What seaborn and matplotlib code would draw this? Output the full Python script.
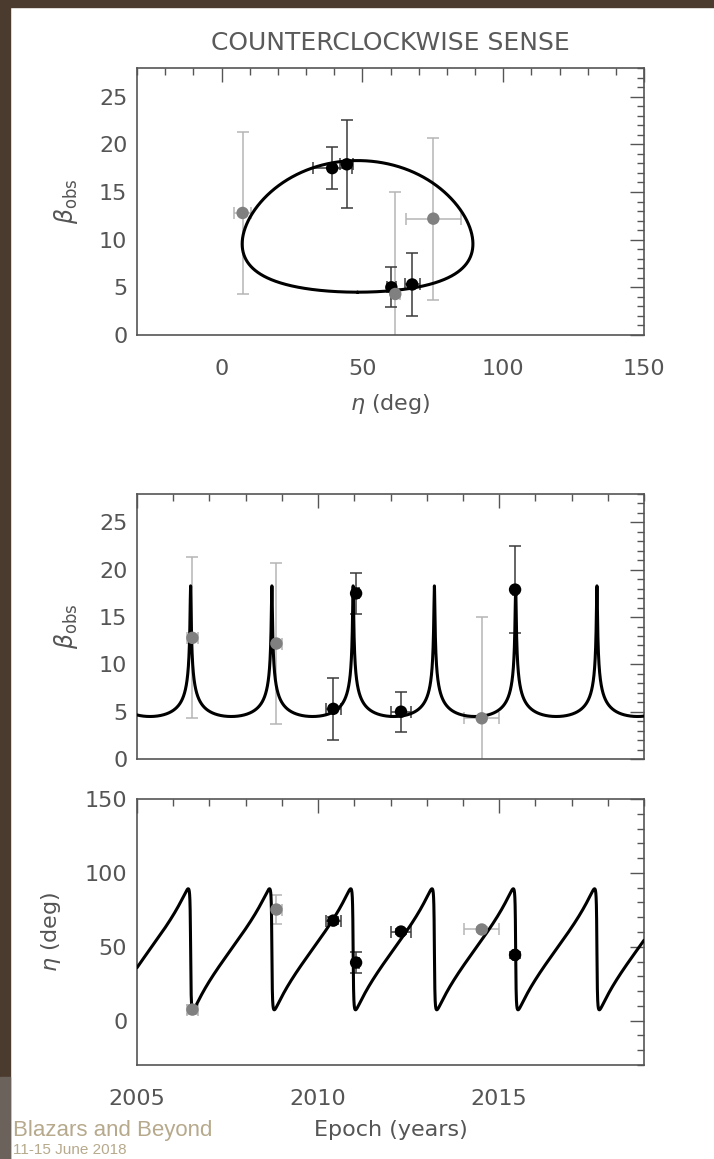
import numpy as np
import matplotlib
matplotlib.use("Agg")
import matplotlib.pyplot as plt
from matplotlib.ticker import MultipleLocator
from matplotlib.patches import Rectangle
import seaborn as sns
import pandas as pd

# ---------------- observed data ----------------
epoch      = [2006.53, 2008.85, 2010.42, 2011.05, 2012.29, 2014.52, 2015.44]
epoch_err  = [0.16, 0.15, 0.20, 0.08, 0.27, 0.48, 0.06]
beta_obs   = [12.8, 12.2, 5.3, 17.5, 5.0, 4.3, 17.9]
beta_low   = [4.3, 3.7, 2.0, 15.3, 2.9, -2.0, 13.3]
beta_high  = [21.3, 20.7, 8.6, 19.7, 7.1, 15.0, 22.5]
eta_obs    = [7.5, 75.2, 67.7, 39.3, 60.3, 61.7, 44.5]
eta_err    = [3.0, 9.7, 2.6, 6.9, 1.5, 1.5, 2.3]
group      = ["grey", "grey", "black", "black", "black", "grey", "black"]

# ---------------- precession model parameters ----------------
gamma        = 25.0      # Lorentz factor
phi0_deg     = 15.08     # cone axis angle to line of sight
omega_deg    = 9.82      # cone half-opening angle
eta_axis_deg = 48.3      # projected position angle of cone axis
period_obs   = 2.244     # observed precession period (yr)
t_peak       = 2006.48   # epoch of closest approach to line of sight

title_text = "COUNTERCLOCKWISE SENSE"
top_xticks = [0, 50, 100, 150]
beta_ticks = [0, 5, 10, 15, 20, 25]
eta_ticks = [0, 50, 100, 150]
year_ticks = [2005, 2010, 2015]
footer_1 = "Blazars and Beyond"
footer_2 = "11-15 June 2018"


def precession_model(psi):
    b = np.sqrt(1.0 - 1.0 / gamma**2)
    p0 = np.radians(phi0_deg)
    om = np.radians(omega_deg)
    nx = np.cos(om) * np.sin(p0) + np.sin(om) * np.cos(p0) * np.cos(psi)
    ny = np.sin(om) * np.sin(psi)
    nz = np.cos(om) * np.cos(p0) - np.sin(om) * np.sin(p0) * np.cos(psi)
    sin_t = np.sqrt(nx**2 + ny**2)
    bobs = b * sin_t / (1.0 - b * nz)
    eta = eta_axis_deg + np.degrees(np.arctan2(ny, nx))
    A = 1.0 - b * np.cos(om) * np.cos(p0)
    B = b * np.sin(om) * np.sin(p0)
    t = t_peak + period_obs * (A * (psi - np.pi) + B * np.sin(psi)) / (2 * np.pi * A)
    return t, bobs, eta


psi_loop = np.linspace(0, 2 * np.pi, 6000)
_, loop_beta, loop_eta = precession_model(psi_loop)
psi_time = np.linspace(np.pi - 2 * np.pi, np.pi + 2 * np.pi * 6, 120000)
mod_t, mod_beta, mod_eta = precession_model(psi_time)

df = pd.DataFrame({"epoch": epoch, "epoch_err": epoch_err, "beta": beta_obs,
                   "blo": beta_low, "bhi": beta_high, "eta": eta_obs,
                   "eta_err": eta_err, "group": group})

# ---------------- figure ----------------
sns.set_style("white")
plt.rcParams["font.family"] = ["DejaVu Sans"]
plt.rcParams["mathtext.fontset"] = "dejavusans"

W, H = 714, 1159
fig = plt.figure(figsize=(W / 100, H / 100), dpi=100)
fig.patch.set_facecolor("white")

# slide frame
fig.patches.append(Rectangle((0, 0), 10 / W, 1, transform=fig.transFigure,
                             color="#4b3a2e", zorder=0))
fig.patches.append(Rectangle((0, 0), 10 / W, (H - 1077) / H, transform=fig.transFigure,
                             color="#6a625b", zorder=0))
fig.patches.append(Rectangle((0, 1 - 7 / H), 1, 7 / H, transform=fig.transFigure,
                             color="#4b3a2e", zorder=0))


def rect(l, t, r, b):
    return [l / W, 1 - b / H, (r - l) / W, (b - t) / H]


ax1 = fig.add_axes(rect(137, 68, 644, 335))
ax2 = fig.add_axes(rect(137, 494, 644, 759))
ax3 = fig.add_axes(rect(137, 799, 644, 1065))

txt_col = "#555555"
pal = {"black": "#000000", "grey": "#808080"}
err_col = {"black": "#3a3a3a", "grey": "#b5b5b5"}


def style(ax, xmin, xmaj, ymin, ymaj):
    ax.set_facecolor("white")
    ax.xaxis.set_major_locator(MultipleLocator(xmaj))
    ax.xaxis.set_minor_locator(MultipleLocator(xmin))
    ax.yaxis.set_major_locator(MultipleLocator(ymaj))
    ax.yaxis.set_minor_locator(MultipleLocator(ymin))
    ax.tick_params(which="both", direction="in", top=True, right=True,
                   color="#555555", width=1.0, labelsize=16, labelcolor=txt_col)
    ax.tick_params(which="major", length=10)
    ax.tick_params(which="minor", length=5)
    ax.tick_params(axis="x", pad=17)
    ax.tick_params(axis="y", pad=7)
    for s in ax.spines.values():
        s.set_color("#555555")
        s.set_linewidth(1.2)
    ax.grid(False)


def draw_err(ax, xcol, ycol, xerr, yerr_lo, yerr_hi):
    for g in ["grey", "black"]:
        d = df[df.group == g]
        if yerr_lo is None:
            ye = d[yerr_hi].values
        else:
            ye = [d[ycol].values - d[yerr_lo].values, d[yerr_hi].values - d[ycol].values]
        ax.errorbar(d[xcol], d[ycol], xerr=d[xerr].values, yerr=ye, fmt="none",
                    ecolor=err_col[g], elinewidth=1.1, capsize=4.6, capthick=1.1,
                    zorder=2)


# ---- panel 1: beta vs eta loop ----
draw_err(ax1, "eta", "beta", "eta_err", "blo", "bhi")
sns.lineplot(x=loop_eta, y=loop_beta, sort=False, estimator=None, color="black",
             lw=2.2, ax=ax1, zorder=3)
sns.scatterplot(data=df, x="eta", y="beta", hue="group", palette=pal, s=80,
                edgecolor="none", legend=False, ax=ax1, zorder=4)
ax1.set_xlim(-30, 150)
ax1.set_ylim(0, 28)
style(ax1, 10, 50, 1, 5)
ax1.set_xticks(top_xticks)
ax1.set_yticks(beta_ticks)
ax1.set_xlabel(r"$\eta$ (deg)", fontsize=16, color=txt_col)
ax1.set_ylabel(r"$\beta_{\rm obs}$", fontsize=17, color=txt_col)
ax1.xaxis.set_label_coords(0.5, -0.215)
ax1.yaxis.set_label_coords(-0.112, 0.5)

# ---- panel 2: beta vs epoch ----
draw_err(ax2, "epoch", "beta", "epoch_err", "blo", "bhi")
sns.lineplot(x=mod_t, y=mod_beta, sort=False, estimator=None, color="black",
             lw=2.2, ax=ax2, zorder=3)
sns.scatterplot(data=df, x="epoch", y="beta", hue="group", palette=pal, s=80,
                edgecolor="none", legend=False, ax=ax2, zorder=4)
ax2.set_xlim(2005, 2019)
ax2.set_ylim(0, 28)
style(ax2, 1, 5, 1, 5)
ax2.set_yticks(beta_ticks)
ax2.tick_params(axis="x", labelbottom=False)
ax2.set_xlabel("")
ax2.set_ylabel(r"$\beta_{\rm obs}$", fontsize=17, color=txt_col)
ax2.yaxis.set_label_coords(-0.112, 0.5)

# ---- panel 3: eta vs epoch ----
draw_err(ax3, "epoch", "eta", "epoch_err", None, "eta_err")
sns.lineplot(x=mod_t, y=mod_eta, sort=False, estimator=None, color="black",
             lw=2.2, ax=ax3, zorder=3)
sns.scatterplot(data=df, x="epoch", y="eta", hue="group", palette=pal, s=80,
                edgecolor="none", legend=False, ax=ax3, zorder=4)
ax3.set_xlim(2005, 2019)
ax3.set_ylim(-30, 150)
style(ax3, 1, 5, 10, 50)
ax3.set_xticks(year_ticks)
ax3.set_yticks(eta_ticks)
ax3.set_xlabel("Epoch (years)", fontsize=16, color=txt_col)
ax3.set_ylabel(r"$\eta$ (deg)", fontsize=16, color=txt_col)
ax3.xaxis.set_label_coords(0.5, -0.205)
ax3.yaxis.set_label_coords(-0.146, 0.5)

fig.text(390 / W, 1 - 43 / H, title_text, ha="center", va="center",
         fontsize=18, color="#5a5a5a")

# slide footer text (kept inside the canvas)
fig.text(13 / W, (H - 1136) / H, footer_1, ha="left", va="baseline",
         fontsize=16, color="#b6a98c", family=["Liberation Sans", "DejaVu Sans"])
fig.text(13 / W, (H - 1154) / H, footer_2, ha="left", va="baseline",
         fontsize=11, color="#b6a98c", family=["Liberation Sans", "DejaVu Sans"])

fig.savefig("out.png", dpi=100)
